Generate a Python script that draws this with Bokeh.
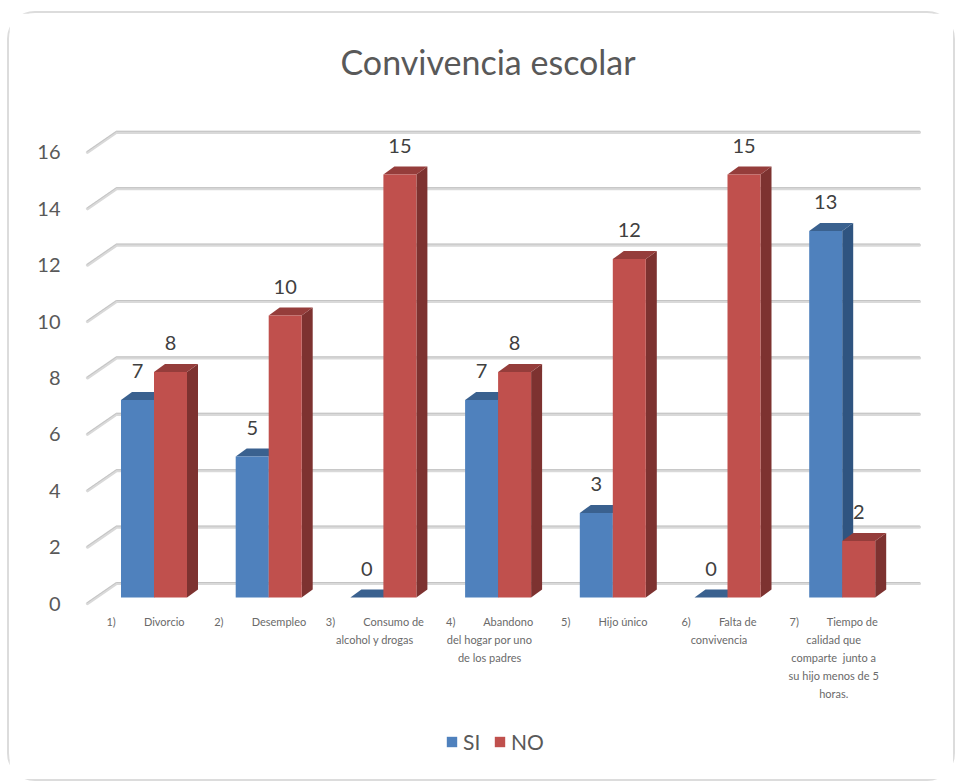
from bokeh.plotting import figure
from bokeh.models import ColumnDataSource, FixedTicker, Legend, LegendItem, Range1d
from bokeh.core.properties import value
from bokeh.embed import file_html
from bokeh.resources import INLINE

GAP = "\u00a0" * 10
TITLE = "Convivencia escolar"
CATEGORIES = [
    "1)" + GAP + "Divorcio",
    "2)" + GAP + "Desempleo",
    "3)" + GAP + "Consumo de\nalcohol y drogas",
    "4)" + GAP + "Abandono\ndel hogar por uno\nde los padres",
    "5)" + GAP + "Hijo único",
    "6)" + GAP + "Falta de\nconvivencia",
    "7)" + GAP + "Tiempo de\ncalidad que\ncomparte\u00a0\u00a0junto a\nsu hijo menos de 5\nhoras.",
]
SI = [7, 5, 0, 7, 3, 0, 13]
NO = [8, 10, 15, 8, 12, 15, 2]
Y_TICKS = [0, 2, 4, 6, 8, 10, 12, 14, 16]

# layout scale: pixels per category and per value unit
PX_X, PX_Y = 114.7, 28.2
ORIGIN_X = 145
FONT = value("Lato")


def hx(px):
    return px / PX_X


def vy(px):
    return px / PX_Y


p = figure(
    width=944, height=766, margin=(13, 0, 0, 9),
    output_backend="svg", toolbar_location=None,
    min_border_left=69, min_border_right=23, min_border_top=87, min_border_bottom=6,
    x_range=Range1d(hx(78 - ORIGIN_X), hx(930 - ORIGIN_X)),
    y_range=Range1d(vy(-170), vy(503)),
    outline_line_color=None, background_fill_color="white", border_fill_color="white",
)
p.styles = {"outline": "2px solid #dcdcdc", "border-radius": "26px"}
p.grid.visible = False

p.title.text = TITLE
p.title.text_font = "Lato"
p.title.text_font_style = "normal"
p.title.text_font_size = "34px"
p.title.text_color = "#595959"
p.title.align = "left"
p.title.offset = 262
p.title.standoff = 38

p.yaxis.ticker = FixedTicker(ticks=Y_TICKS)
p.yaxis.axis_line_color = None
p.yaxis.major_tick_line_color = None
p.yaxis.minor_tick_line_color = None
p.yaxis.major_label_standoff = 12
p.yaxis.major_label_text_font = "Lato"
p.yaxis.major_label_text_font_size = "20px"
p.yaxis.major_label_text_color = "#595959"

p.xaxis.fixed_location = vy(-3)
p.xaxis.ticker = FixedTicker(ticks=list(range(len(CATEGORIES))))
p.xaxis.major_label_overrides = {i: c for i, c in enumerate(CATEGORIES)}
p.xaxis.axis_line_color = None
p.xaxis.major_tick_line_color = None
p.xaxis.minor_tick_line_color = None
p.xaxis.major_label_standoff = 2
p.xaxis.major_label_text_font = "Lato"
p.xaxis.major_label_text_font_size = "11px"
p.xaxis.major_label_text_color = "#6a6a6a"
p.xaxis.major_label_text_line_height = 1.4

# wall gridlines: from the front tick back to the wall and across
x0, x1, x2 = hx(87 - ORIGIN_X), hx(116 - ORIGIN_X), hx(919 - ORIGIN_X)
for colour, width, lift in (("#d9d9d9", 3.2, 0), ("#c4c4c4", 1, vy(1))):
    p.multi_line(
        xs=[[x0, x1, x2] for _ in Y_TICKS],
        ys=[[t + lift, t + vy(20) + lift, t + vy(20) + lift] for t in Y_TICKS],
        line_color=colour, line_width=width, line_join="round", line_cap="round",
    )

floor = vy(6)
bar_w = hx(33)
depth_x, depth_y = hx(11), vy(8)
n = range(len(CATEGORIES))


def series(vals, left_px, front, side, top):
    lefts = [i + hx(left_px) for i in n]
    rights = [l + bar_w for l in lefts]
    tops = [v + floor for v in vals]
    p.patches(
        xs=[[r, r + depth_x, r + depth_x, r] for r in rights],
        ys=[[floor, floor + depth_y, t + depth_y, t] for t in tops],
        fill_color=side, line_color=None,
    )
    p.patches(
        xs=[[l, r, r + depth_x, l + depth_x] for l, r in zip(lefts, rights)],
        ys=[[t, t, t + depth_y, t + depth_y] for t in tops],
        fill_color=top, line_color=None,
    )
    src = ColumnDataSource(dict(x=[l + bar_w / 2 for l in lefts], top=tops,
                                lab_y=[t + vy(29) for t in tops],
                                lab=[str(v) for v in vals]))
    bars = p.vbar(x="x", top="top", bottom=floor, width=bar_w, source=src,
                  fill_color=front, line_color=None)
    p.text(x="x", y="lab_y", text="lab", source=src, text_font=FONT, text_font_size="20px",
           text_color="#404040", text_align="center", text_baseline="middle")
    return bars


si_r = series(SI, -24.5, "#4f81bd", "#2f5480", "#3a618f")
no_r = series(NO, 8.5, "#c0504d", "#7d3230", "#953d3b")

legend = Legend(
    items=[LegendItem(label="SI", renderers=[si_r]), LegendItem(label="NO", renderers=[no_r])],
    location=(367, 19), orientation="horizontal",
    background_fill_alpha=0, border_line_color=None,
    label_text_font="Lato", label_text_font_size="21px", label_text_color="#595959",
    glyph_width=13, glyph_height=13, label_standoff=5, spacing=10, padding=0, margin=0,
)
p.add_layout(legend, "center")

open("out.html", "w").write(file_html(p, INLINE))
